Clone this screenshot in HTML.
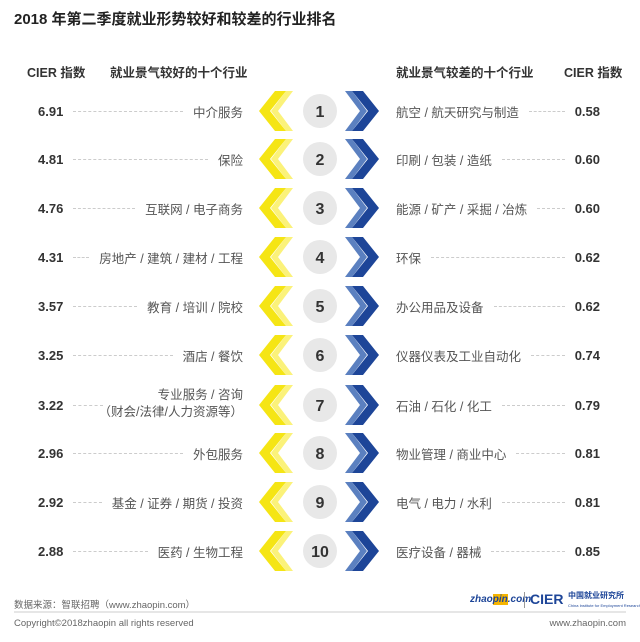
<!DOCTYPE html>
<html><head><meta charset="utf-8"><style>
body{margin:0;width:640px;height:642px;background:#fff;font-family:"Liberation Sans","Noto Sans CJK SC",sans-serif;position:relative;overflow:hidden}
.a{position:absolute;white-space:nowrap}
.t{left:14px;top:8px;font-size:15px;font-weight:bold;color:#222}
.h{top:62px;font-size:12.5px;font-weight:bold;color:#333}
.row{position:absolute;height:20px;display:flex;align-items:center;font-size:12.5px;color:#555}
.num{font-weight:bold;color:#333;font-size:13px}
.dots{flex:1;border-top:1px dashed #ccc;margin:0 10px;height:0}
.foot{font-size:9.5px;color:#666}
</style></head><body>
<div class="a t">2018 年第二季度就业形势较好和较差的行业排名</div>
<div class="a h" style="left:27px">CIER 指数</div>
<div class="a h" style="left:110px">就业景气较好的十个行业</div>
<div class="a h" style="left:396px">就业景气较差的十个行业</div>
<div class="a h" style="left:564px">CIER 指数</div>

<svg class="a" style="left:0;top:0" width="640" height="642">
<defs>
<g id="r">
<polygon points="271,0 286,-20 293,-20 278,0 293,20 286,20" fill="#fbf27a"/>
<polygon points="259,0 275,-20 286,-20 270,0 286,20 275,20" fill="#f5e514"/>
<circle cx="320" cy="0" r="17" fill="#e8e8e8"/>
<polygon points="367,0 352,-20 345,-20 360,0 345,20 352,20" fill="#5b80c0"/>
<polygon points="379,0 363,-20 352,-20 368,0 352,20 363,20" fill="#1d4598"/>
</g>
</defs>
<g font-family="Liberation Sans,sans-serif" font-size="16" font-weight="bold" fill="#333" text-anchor="middle">
<use href="#r" y="111"/><text x="320" y="117">1</text>
<use href="#r" y="159"/><text x="320" y="165">2</text>
<use href="#r" y="208"/><text x="320" y="214">3</text>
<use href="#r" y="257"/><text x="320" y="263">4</text>
<use href="#r" y="306"/><text x="320" y="312">5</text>
<use href="#r" y="355"/><text x="320" y="361">6</text>
<use href="#r" y="405"/><text x="320" y="411">7</text>
<use href="#r" y="453"/><text x="320" y="459">8</text>
<use href="#r" y="502"/><text x="320" y="508">9</text>
<use href="#r" y="551"/><text x="320" y="557">10</text>
</g>
<line x1="14" y1="612" x2="626" y2="612" stroke="#ccc" stroke-width="1"/>
</svg>

<div class="row" style="left:38px;width:205px;top:101px"><span class="num">6.91</span><span class="dots"></span><span>中介服务</span></div>
<div class="row" style="left:38px;width:205px;top:149px"><span class="num">4.81</span><span class="dots"></span><span>保险</span></div>
<div class="row" style="left:38px;width:205px;top:198px"><span class="num">4.76</span><span class="dots"></span><span>互联网 / 电子商务</span></div>
<div class="row" style="left:38px;width:205px;top:247px"><span class="num">4.31</span><span class="dots"></span><span>房地产 / 建筑 / 建材 / 工程</span></div>
<div class="row" style="left:38px;width:205px;top:296px"><span class="num">3.57</span><span class="dots"></span><span>教育 / 培训 / 院校</span></div>
<div class="row" style="left:38px;width:205px;top:345px"><span class="num">3.25</span><span class="dots"></span><span>酒店 / 餐饮</span></div>
<div class="row" style="left:38px;width:205px;top:395px"><span class="num">3.22</span><span class="dots" style="flex:0 0 30px"></span><span style="flex:1"></span></div>
<div class="a" style="right:397px;top:387px;font-size:12.5px;color:#555;text-align:right;line-height:17px">专业服务 / 咨询<br>（财会/法律/人力资源等）</div>
<div class="row" style="left:38px;width:205px;top:443px"><span class="num">2.96</span><span class="dots"></span><span>外包服务</span></div>
<div class="row" style="left:38px;width:205px;top:492px"><span class="num">2.92</span><span class="dots"></span><span>基金 / 证券 / 期货 / 投资</span></div>
<div class="row" style="left:38px;width:205px;top:541px"><span class="num">2.88</span><span class="dots"></span><span>医药 / 生物工程</span></div>

<div class="row" style="left:396px;width:204px;top:101px"><span>航空 / 航天研究与制造</span><span class="dots"></span><span class="num">0.58</span></div>
<div class="row" style="left:396px;width:204px;top:149px"><span>印刷 / 包装 / 造纸</span><span class="dots"></span><span class="num">0.60</span></div>
<div class="row" style="left:396px;width:204px;top:198px"><span>能源 / 矿产 / 采掘 / 冶炼</span><span class="dots"></span><span class="num">0.60</span></div>
<div class="row" style="left:396px;width:204px;top:247px"><span>环保</span><span class="dots"></span><span class="num">0.62</span></div>
<div class="row" style="left:396px;width:204px;top:296px"><span>办公用品及设备</span><span class="dots"></span><span class="num">0.62</span></div>
<div class="row" style="left:396px;width:204px;top:345px"><span>仪器仪表及工业自动化</span><span class="dots"></span><span class="num">0.74</span></div>
<div class="row" style="left:396px;width:204px;top:395px"><span>石油 / 石化 / 化工</span><span class="dots"></span><span class="num">0.79</span></div>
<div class="row" style="left:396px;width:204px;top:443px"><span>物业管理 / 商业中心</span><span class="dots"></span><span class="num">0.81</span></div>
<div class="row" style="left:396px;width:204px;top:492px"><span>电气 / 电力 / 水利</span><span class="dots"></span><span class="num">0.81</span></div>
<div class="row" style="left:396px;width:204px;top:541px"><span>医疗设备 / 器械</span><span class="dots"></span><span class="num">0.85</span></div>

<div class="a foot" style="left:14px;top:597px">数据来源：智联招聘（www.zhaopin.com）</div>
<div class="a foot" style="left:14px;top:618px">Copyright©2018zhaopin all rights reserved</div>
<div class="a foot" style="right:14px;top:618px">www.zhaopin.com</div>
<div class="a" style="left:470px;top:594px;font-size:10px;font-weight:bold;font-style:italic;color:#1d4598">zhao<span style="background:#f5b400;color:#1d4598">pin</span>.com</div>
<div class="a" style="left:524px;top:592px;width:1px;height:16px;background:#999"></div>
<div class="a" style="left:530px;top:591px;font-size:14px;font-weight:bold;color:#1d4598">CIER</div>
<div class="a" style="left:568px;top:591px;font-size:8px;font-weight:bold;color:#1d4598;line-height:9px">中国就业研究所<br><span style="font-size:4px;font-weight:normal">China Institute for Employment Research</span></div>
</body></html>
